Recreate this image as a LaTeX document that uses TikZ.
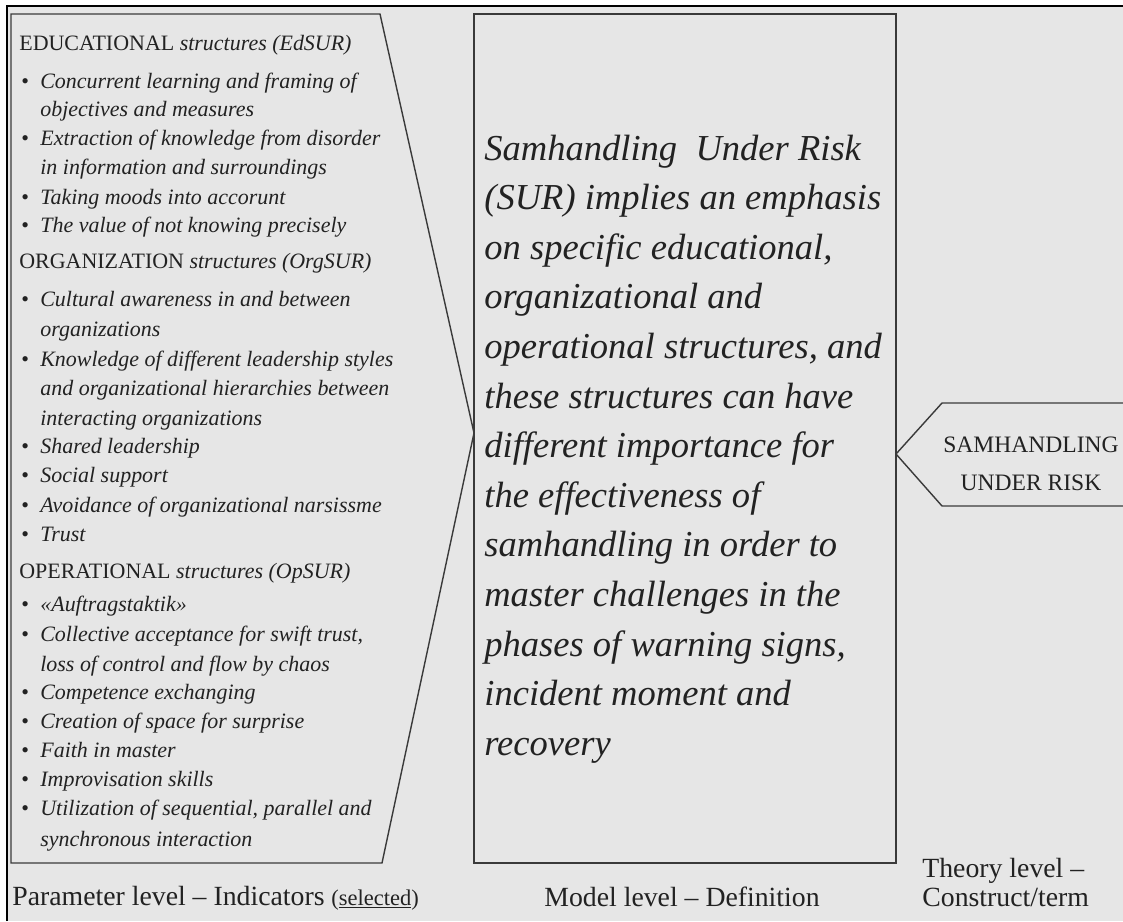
\documentclass[tikz,border=0pt]{standalone}
\usepackage{fontspec}
\setmainfont{Liberation Serif}
\definecolor{bgc}{HTML}{E6E6E6}
\definecolor{linec}{HTML}{3A3A3A}
\definecolor{txtc}{HTML}{222222}
\begin{document}
\begin{tikzpicture}[x=0.02cm,y=-0.02cm,
  shapeline/.style={draw=linec, line width=0.8pt, line join=miter},
  litem/.style={inner sep=0pt, anchor=base west, text=txtc, font=\fontsize{12.5}{15}\selectfont\itshape},
  lhead/.style={inner sep=0pt, anchor=base west, text=txtc, font=\fontsize{12.5}{15}\selectfont},
  bul/.style={inner sep=0pt, anchor=base west, text=txtc, font=\fontsize{12.5}{15}\selectfont},
  mtext/.style={inner sep=0pt, anchor=base west, text=txtc, font=\fontsize{20.8}{24}\selectfont\itshape},
  rlab/.style={inner sep=0pt, anchor=base, text=txtc, font=\fontsize{13.4}{16}\selectfont},
  blab/.style={inner sep=0pt, text=txtc, font=\fontsize{15.8}{18}\selectfont}
]
\useasboundingbox (0,0) rectangle (1123,921);
\fill[white] (0,0) rectangle (1123,921);
\fill[bgc] (7,6) rectangle (1123,921);
\draw[black, line width=1.6pt] (7,921) -- (7,6) -- (1123,6);

% left pentagon
\draw[shapeline] (11,14) -- (380,14) -- (474,433) -- (382,863) -- (11,863) -- cycle;
% middle rectangle
\draw[shapeline] (474,14) rectangle (896,863);
% right chevron label shape
\draw[shapeline] (1123,403) -- (942,403) -- (896,454) -- (942,506) -- (1123,506);

% headers
\node[lhead] (h1) at (19,50) {EDUCATIONAL \textit{structures (EdSUR)}};
\node[lhead] (h2) at (19,268) {ORGANIZATION \textit{structures (OrgSUR)}};
\node[lhead] (h3) at (19,578) {OPERATIONAL \textit{structures (OpSUR)}};

% bullets
\foreach \y [count=\i] in {88,145,204,232,306,366,453,482,512,541,611,641,699,728,757,786,815}
  \node[bul] (b\i) at (21,\y) {\textbullet};

% list lines
\foreach \y/\t [count=\i] in {
  88/{Concurrent learning and framing of},
  116/{objectives and measures},
  145/{Extraction of knowledge from disorder},
  174/{in information and surroundings},
  204/{Taking moods into accorunt},
  232/{The value of not knowing precisely},
  306/{Cultural awareness in and between},
  336/{organizations},
  366/{Knowledge of different leadership styles},
  395/{and organizational hierarchies between},
  425/{interacting organizations},
  453/{Shared leadership},
  482/{Social support},
  512/{Avoidance of organizational narsissme},
  541/{Trust},
  611/{«Auftragstaktik»},
  641/{Collective acceptance for swift trust,},
  671/{loss of control and flow by chaos},
  699/{Competence exchanging},
  728/{Creation of space for surprise},
  757/{Faith in master},
  786/{Improvisation skills},
  815/{Utilization of sequential, parallel and},
  846/{synchronous interaction}}
  \node[litem] (l\i) at (40,\y) {\t};

% middle definition
\foreach \t [count=\i] in {
  {Samhandling\ \ Under Risk},
  {(SUR) implies an emphasis},
  {on specific educational,},
  {organizational and},
  {operational structures, and},
  {these structures can have},
  {different importance for},
  {the effectiveness of},
  {samhandling in order to},
  {master challenges in the},
  {phases of warning signs,},
  {incident moment and},
  {recovery}}
  \node[mtext] (m\i) at (484,{160+(\i-1)*49.6}) {\t};

% right label
\node[rlab] (r1) at (1031,452) {SAMHANDLING};
\node[rlab] (r2) at (1031,490) {UNDER RISK};

% bottom labels
\node[blab, anchor=base west] (p1) at (12,905) {Parameter level – Indicators {\fontsize{12.8}{15}\selectfont(\underline{selected})}};
\node[blab, anchor=base] (p2) at (682,906) {Model level – Definition};
\node[blab, anchor=base west] (p3) at (922,877) {Theory level –};
\node[blab, anchor=base west] (p4) at (922,906) {Construct/term};
\end{tikzpicture}
\end{document}
